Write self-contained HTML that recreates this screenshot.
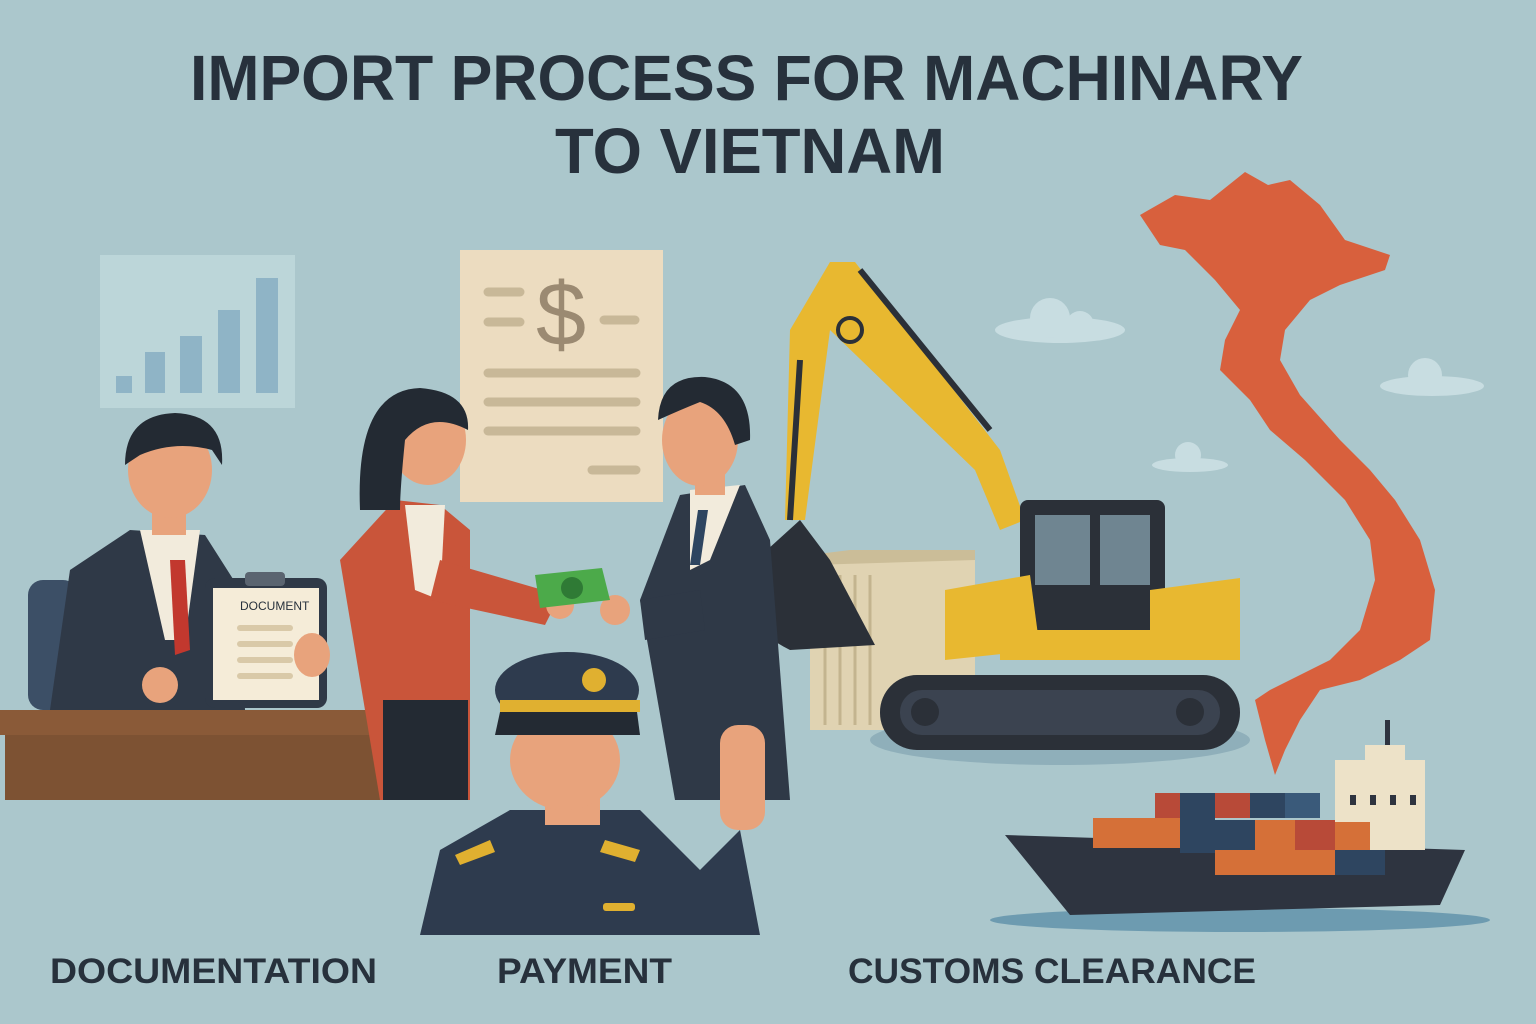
<!DOCTYPE html>
<html><head><meta charset="utf-8"><style>
html,body{margin:0;padding:0;background:#abc7cc;}
svg{display:block}
text{font-family:"Liberation Sans",sans-serif;font-weight:bold;fill:#27313c}
</style></head><body>
<svg width="1536" height="1024" viewBox="0 0 1536 1024" xmlns="http://www.w3.org/2000/svg">
<rect width="1536" height="1024" fill="#abc7cc"/>
<text x="190" y="100" font-size="64" textLength="1113" lengthAdjust="spacingAndGlyphs">IMPORT PROCESS FOR MACHINARY</text>
<text x="555" y="173" font-size="64" textLength="390" lengthAdjust="spacingAndGlyphs">TO VIETNAM</text>

<rect x="100" y="255" width="195" height="153" fill="#bcd6d9"/>
<rect x="116" y="376" width="16" height="17" fill="#8fb4c6"/>
<rect x="145" y="352" width="20" height="41" fill="#8fb4c6"/>
<rect x="180" y="336" width="22" height="57" fill="#8fb4c6"/>
<rect x="218" y="310" width="22" height="83" fill="#8fb4c6"/>
<rect x="256" y="278" width="22" height="115" fill="#8fb4c6"/>

<rect x="460" y="250" width="203" height="252" fill="#ecdcc0"/>
<text x="561" y="345" font-size="90" text-anchor="middle" style="fill:#9b8a72;font-weight:normal">$</text>
<g stroke="#c8b898" stroke-width="9" stroke-linecap="round">
<line x1="488" y1="292" x2="520" y2="292"/><line x1="488" y1="322" x2="520" y2="322"/>
<line x1="604" y1="320" x2="635" y2="320"/>
<line x1="488" y1="373" x2="636" y2="373"/><line x1="488" y1="402" x2="636" y2="402"/>
<line x1="488" y1="431" x2="636" y2="431"/><line x1="592" y1="470" x2="636" y2="470"/>
</g>

<g fill="#c8dde1">
<ellipse cx="1060" cy="330" rx="65" ry="13"/><circle cx="1050" cy="318" r="20"/><circle cx="1080" cy="325" r="14"/>
<ellipse cx="1432" cy="386" rx="52" ry="10"/><circle cx="1425" cy="375" r="17"/>
<ellipse cx="1190" cy="465" rx="38" ry="7"/><circle cx="1188" cy="455" r="13"/>
</g>

<path fill="#d8603d" d="M1140,215 L1175,195 L1210,200 L1245,172 L1268,185 L1290,180 L1320,205 L1345,240 L1390,255 L1385,270 L1340,285 L1310,300 L1285,330 L1280,360 L1300,395 L1340,440 L1370,470 L1395,500 L1420,540 L1435,590 L1430,640 L1400,660 L1360,680 L1320,690 L1300,720 L1285,750 L1275,775 L1265,740 L1255,700 L1270,690 L1300,675 L1330,660 L1360,630 L1375,580 L1370,540 L1345,500 L1305,460 L1270,430 L1250,400 L1220,370 L1225,340 L1240,310 L1215,280 L1185,250 L1160,245 Z"/>

<ellipse cx="1060" cy="740" rx="190" ry="25" fill="#8fafba"/>
<rect x="810" y="555" width="165" height="175" fill="#e0d3b2"/>
<polygon points="810,555 850,550 975,550 975,560 810,565" fill="#cbbd98"/>
<g stroke="#c3b48f" stroke-width="3">
<line x1="825" y1="575" x2="825" y2="725"/><line x1="840" y1="575" x2="840" y2="725"/><line x1="855" y1="575" x2="855" y2="725"/><line x1="870" y1="575" x2="870" y2="725"/>
</g>
<polygon points="790,330 830,262 855,262 1000,450 1025,520 1000,530 975,470 830,330 805,520 785,520" fill="#e8b830"/>
<line x1="860" y1="270" x2="990" y2="430" stroke="#2b3038" stroke-width="6"/>
<line x1="800" y1="360" x2="790" y2="520" stroke="#2b3038" stroke-width="6"/>
<circle cx="850" cy="330" r="12" fill="none" stroke="#2b3038" stroke-width="4"/>
<path d="M745,570 L800,520 L830,560 L875,645 L790,650 Q730,620 745,570Z" fill="#2b3038"/>
<rect x="1020" y="500" width="145" height="130" rx="8" fill="#2b3038"/>
<rect x="1035" y="515" width="55" height="70" fill="#6f8591"/><rect x="1100" y="515" width="50" height="70" fill="#6f8591"/>
<polygon points="945,590 1030,575 1040,650 945,660" fill="#e8b830"/>
<polygon points="1150,590 1240,578 1240,650 1150,660" fill="#e8b830"/>
<rect x="1000" y="630" width="240" height="30" fill="#e8b830"/>
<rect x="880" y="675" width="360" height="75" rx="37" fill="#2b3038"/>
<rect x="900" y="690" width="320" height="45" rx="22" fill="#3b4350"/>
<g fill="#2b3038"><circle cx="925" cy="712" r="14"/><circle cx="1190" cy="712" r="14"/></g>

<ellipse cx="1240" cy="920" rx="250" ry="12" fill="#6d9bb0"/>
<polygon points="1005,835 1465,850 1440,905 1070,915" fill="#2e3440"/>
<rect x="1335" y="760" width="90" height="90" fill="#ede2c8"/>
<rect x="1365" y="745" width="40" height="20" fill="#ede2c8"/>
<rect x="1385" y="720" width="5" height="25" fill="#2e3440"/>
<g fill="#2e3440"><rect x="1350" y="795" width="6" height="10"/><rect x="1370" y="795" width="6" height="10"/><rect x="1390" y="795" width="6" height="10"/><rect x="1410" y="795" width="6" height="10"/></g>
<rect x="1093" y="818" width="90" height="30" fill="#d57038"/>
<rect x="1155" y="793" width="55" height="25" fill="#b84a38"/><rect x="1180" y="793" width="35" height="60" fill="#2e4560"/>
<rect x="1215" y="793" width="35" height="25" fill="#b84a38"/><rect x="1250" y="793" width="35" height="25" fill="#2e4560"/><rect x="1285" y="793" width="35" height="25" fill="#3a5a7a"/>
<rect x="1215" y="820" width="40" height="30" fill="#2e4560"/><rect x="1255" y="820" width="40" height="30" fill="#d57038"/><rect x="1295" y="820" width="40" height="30" fill="#b84a38"/>
<rect x="1335" y="822" width="35" height="30" fill="#d57038"/><rect x="1215" y="850" width="120" height="25" fill="#d57038"/>
<rect x="1335" y="850" width="50" height="25" fill="#2e4560"/>

<rect x="28" y="580" width="50" height="130" rx="15" fill="#3c4f66"/>
<path d="M50,710 L70,570 L130,530 L205,535 L240,590 L245,710Z" fill="#2f3947"/>
<polygon points="140,530 200,530 185,640 165,640" fill="#f2ebdc"/>
<polygon points="170,560 185,560 190,650 175,655" fill="#c2382e"/>
<rect x="152" y="490" width="34" height="45" fill="#e8a37c"/>
<ellipse cx="170" cy="470" rx="42" ry="48" fill="#e8a37c"/>
<path d="M125,465 Q125,415 175,413 Q225,415 222,465 L212,450 Q175,440 140,455Z" fill="#232a33"/>
<circle cx="160" cy="685" r="18" fill="#e8a37c"/>
<rect x="205" y="578" width="122" height="130" rx="10" fill="#2f3947"/>
<rect x="213" y="588" width="106" height="112" fill="#f5ecd8"/>
<rect x="245" y="572" width="40" height="14" rx="4" fill="#5a6470"/>
<text x="240" y="610" font-size="12" style="font-weight:normal">DOCUMENT</text>
<g stroke="#d9c9a8" stroke-width="6" stroke-linecap="round"><line x1="240" y1="628" x2="290" y2="628"/><line x1="240" y1="644" x2="290" y2="644"/><line x1="240" y1="660" x2="290" y2="660"/><line x1="240" y1="676" x2="290" y2="676"/></g>
<ellipse cx="312" cy="655" rx="18" ry="22" fill="#e8a37c"/>
<rect x="0" y="710" width="400" height="25" fill="#8a5a38"/>
<rect x="5" y="735" width="380" height="65" fill="#7d5233"/>
<rect x="382" y="735" width="20" height="65" fill="#5e3d27"/>

<path d="M380,800 L340,560 L395,500 L440,505 L470,530 L470,800Z" fill="#c9553a"/>
<polygon points="405,505 445,505 440,600 415,590" fill="#f2ebdc"/>
<rect x="383" y="700" width="85" height="100" fill="#232a33"/>
<path d="M440,560 L560,595 L545,625 L430,600Z" fill="#c9553a"/>
<circle cx="560" cy="605" r="14" fill="#e8a37c"/>
<ellipse cx="428" cy="440" rx="38" ry="45" fill="#e8a37c"/>
<path d="M360,510 Q355,390 420,388 Q470,392 468,430 Q430,410 405,440 Q400,490 400,510Z" fill="#232a33"/>

<path d="M640,600 L680,495 L745,485 L770,540 L790,800 L675,800Z" fill="#2f3947"/>
<polygon points="690,490 740,485 710,560 690,570" fill="#f2ebdc"/>
<polygon points="698,510 708,510 700,565 690,565" fill="#2e4560"/>
<path d="M640,600 L700,590 L705,630 L645,640Z" fill="#2f3947"/>
<circle cx="615" cy="610" r="15" fill="#e8a37c"/>
<rect x="695" y="460" width="30" height="35" fill="#e8a37c"/>
<ellipse cx="700" cy="440" rx="38" ry="46" fill="#e8a37c"/>
<path d="M658,420 Q660,375 705,377 Q752,382 750,440 L735,445 Q725,410 700,402 Q680,410 658,420Z" fill="#232a33"/>
<polygon points="535,575 602,568 610,600 540,608" fill="#4caa4a"/>
<circle cx="572" cy="588" r="11" fill="#2f7a35"/>

<path d="M420,935 L440,850 L510,810 L640,810 L700,870 L740,830 L760,935Z" fill="#2e3b4e"/>
<rect x="720" y="725" width="45" height="105" rx="18" fill="#e8a37c"/>
<polygon points="455,855 490,840 495,852 460,865" fill="#e0b030"/>
<polygon points="605,840 640,850 635,862 600,852" fill="#e0b030"/>
<rect x="603" y="903" width="32" height="8" rx="3" fill="#e0b030"/>
<rect x="545" y="780" width="55" height="45" fill="#e8a37c"/>
<ellipse cx="565" cy="760" rx="55" ry="50" fill="#e8a37c"/>
<ellipse cx="567" cy="690" rx="72" ry="38" fill="#2e3b4e"/>
<rect x="500" y="700" width="140" height="12" fill="#e0b030"/>
<path d="M500,712 L637,712 L640,735 L495,735Z" fill="#232a33"/>
<circle cx="594" cy="680" r="12" fill="#e0b030"/>

<text x="50" y="983" font-size="35" textLength="327" lengthAdjust="spacingAndGlyphs">DOCUMENTATION</text>
<text x="497" y="983" font-size="35" textLength="175" lengthAdjust="spacingAndGlyphs">PAYMENT</text>
<text x="848" y="983" font-size="35" textLength="408" lengthAdjust="spacingAndGlyphs">CUSTOMS CLEARANCE</text>
</svg>
</body></html>
